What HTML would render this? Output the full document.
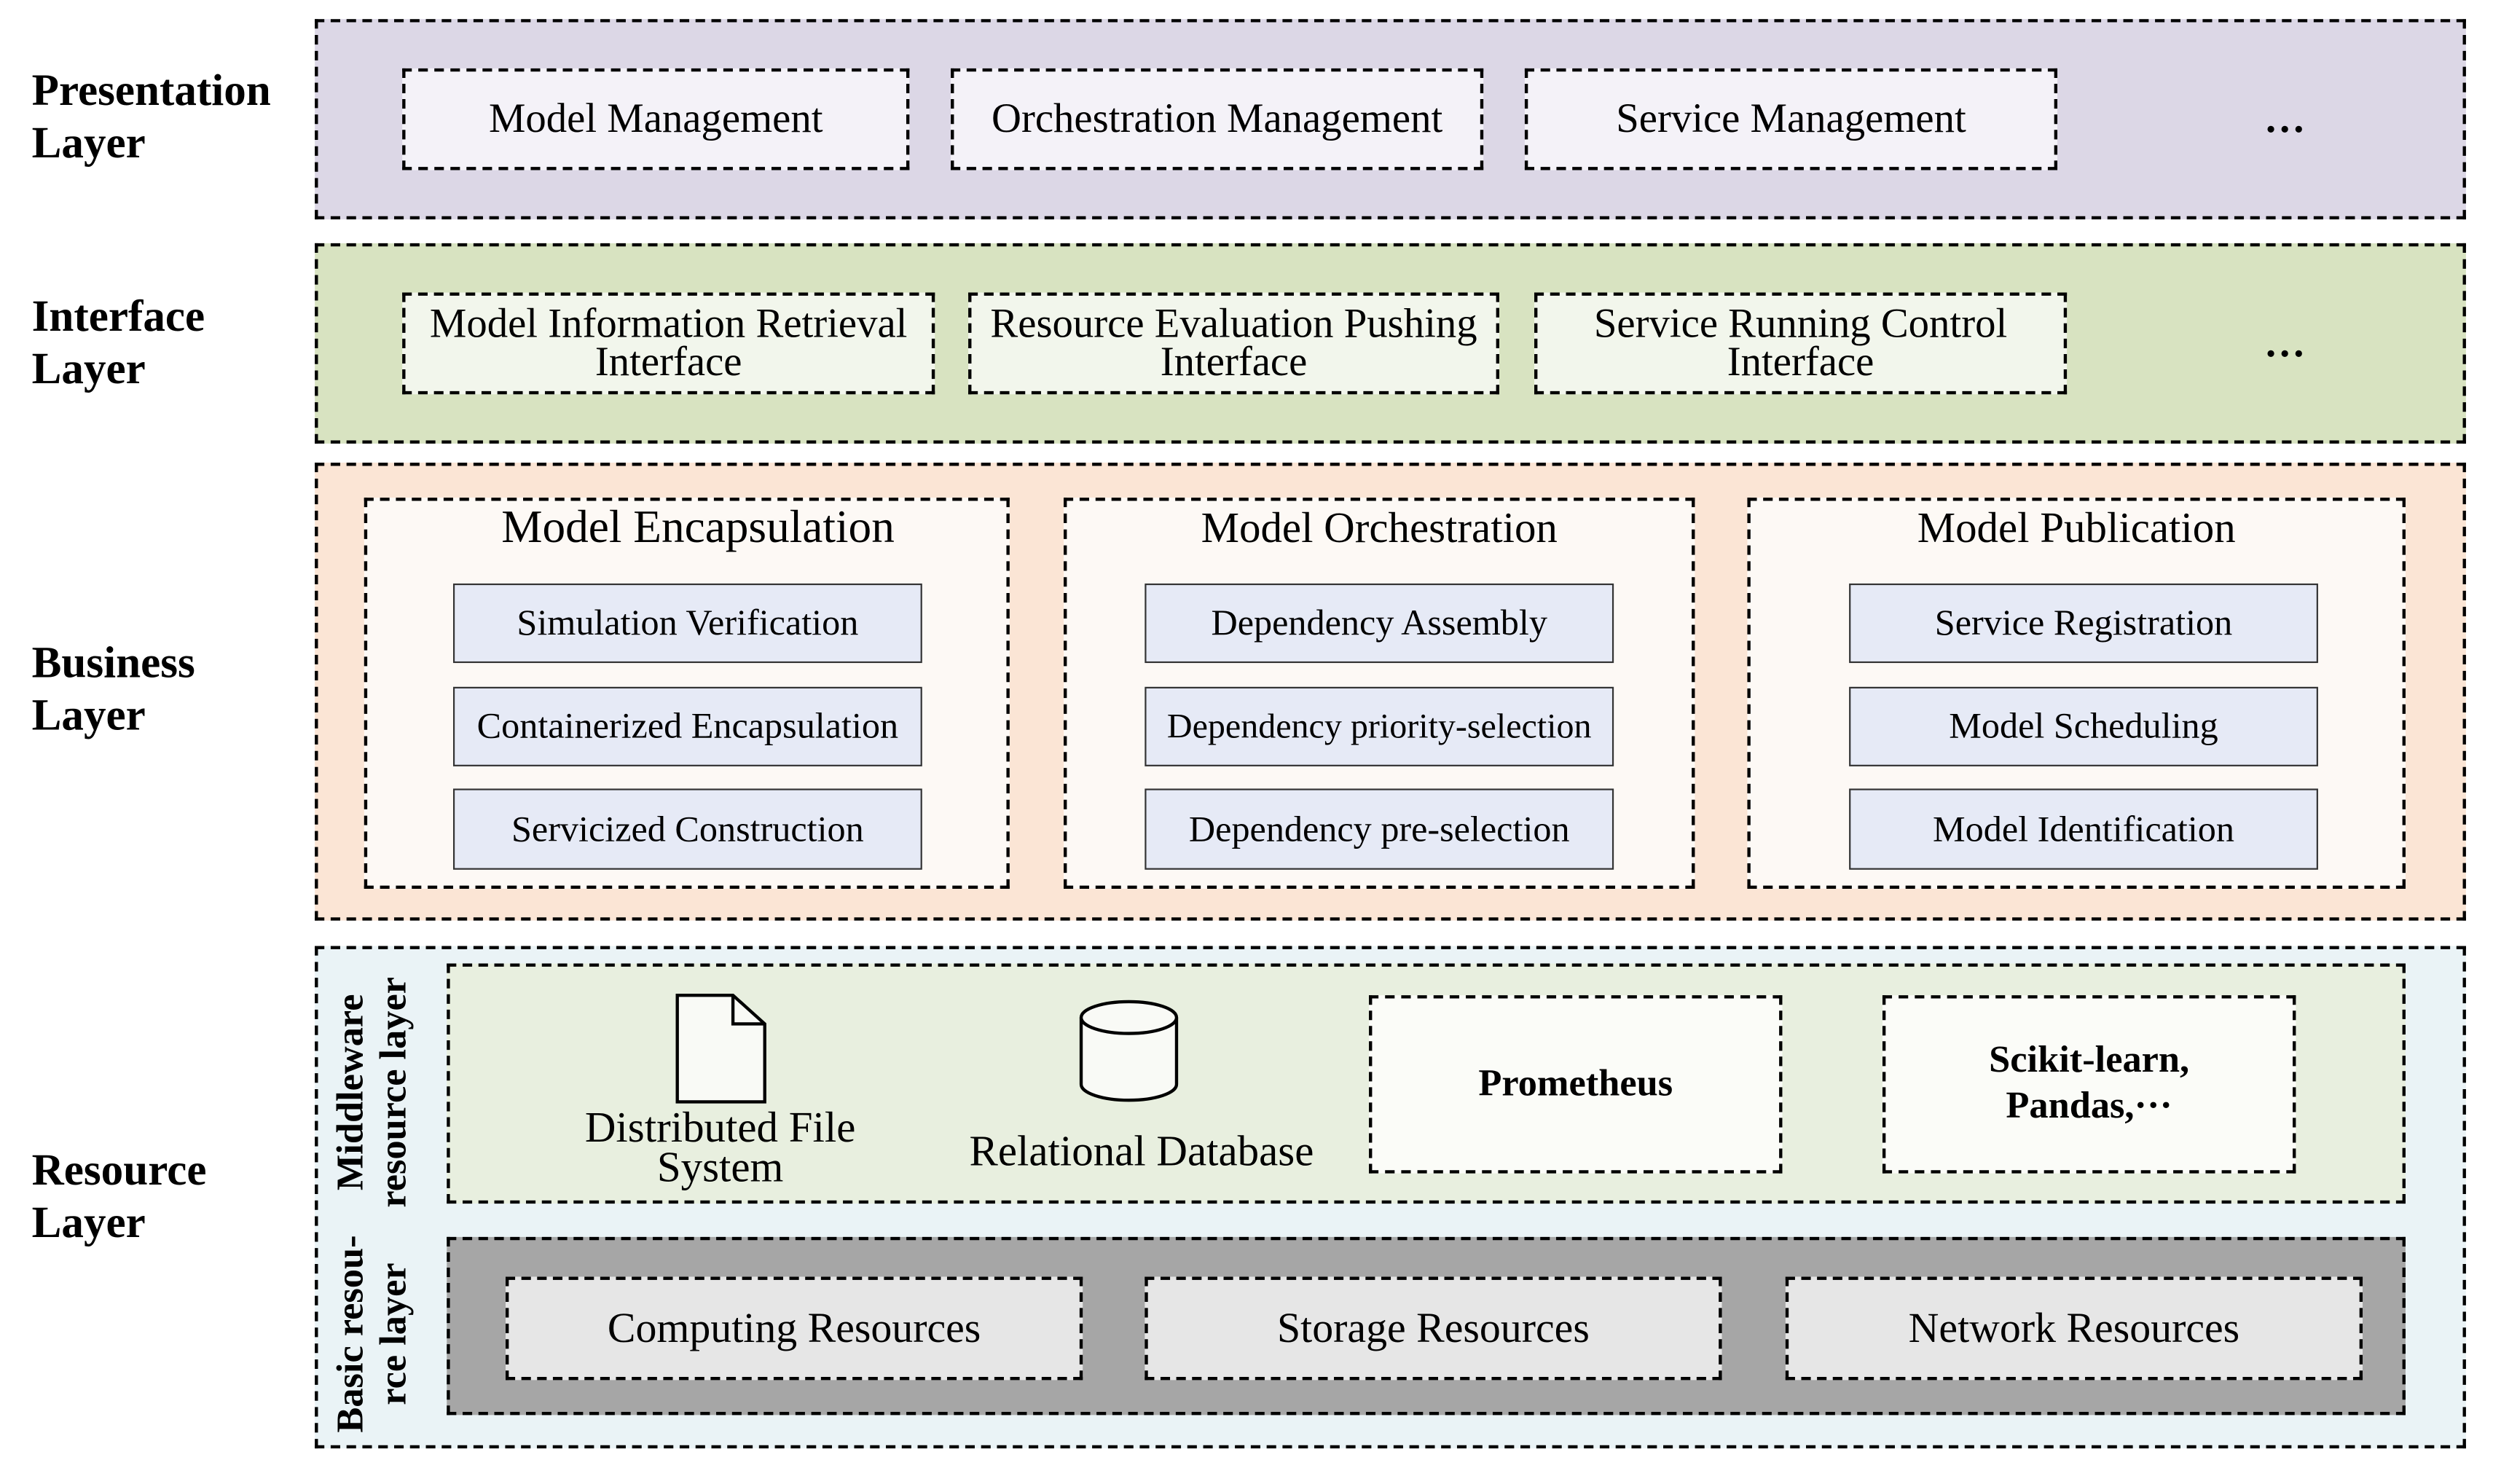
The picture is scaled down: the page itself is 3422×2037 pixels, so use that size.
<!DOCTYPE html>
<html><head><meta charset="utf-8"><style>
html,body{margin:0;padding:0;background:#fff;width:3422px;height:2037px;overflow:hidden}
#s{position:absolute;left:0;top:0;width:1568px;height:933px;transform:scale(2.1824);transform-origin:0 0;font-family:"Liberation Serif",serif;color:#000}
.b{position:absolute;box-sizing:border-box;border:2px dashed #000;display:flex;align-items:center;justify-content:center;text-align:center;line-height:1.0;white-space:nowrap}
.i{position:absolute;box-sizing:border-box;border:1px solid #333;background:#e6eaf6;display:flex;align-items:center;justify-content:center;font-size:23px;white-space:nowrap}
.l{position:absolute;font-weight:bold;font-size:28px;line-height:33px}
.t{position:absolute;font-size:29px;text-align:center;white-space:nowrap}
.v{position:absolute;font-weight:bold;font-size:24px;line-height:27px;transform:rotate(-90deg);transform-origin:0 0;text-align:center;white-space:nowrap}
.d{position:absolute;font-size:26px;font-weight:bold}
</style></head><body><div id="s">
<div class="l" style="left:20px;top:41px">Presentation<br>Layer</div>
<div class="l" style="left:20px;top:183px">Interface<br>Layer</div>
<div class="l" style="left:20px;top:401px">Business<br>Layer</div>
<div class="l" style="left:20px;top:720px">Resource<br>Layer</div>

<div class="b" style="left:198px;top:12px;width:1353px;height:126px;background:#dcd7e6"></div>
<div class="b" style="left:253px;top:43px;width:319px;height:64px;background:#f4f2f8;font-size:26px">Model Management</div>
<div class="b" style="left:598px;top:43px;width:335px;height:64px;background:#f4f2f8;font-size:26px">Orchestration Management</div>
<div class="b" style="left:959px;top:43px;width:335px;height:64px;background:#f4f2f8;font-size:26px">Service Management</div>
<div class="d" style="left:1424px;top:60px">…</div>

<div class="b" style="left:198px;top:153px;width:1353px;height:126px;background:#d8e3c1"></div>
<div class="b" style="left:253px;top:184px;width:335px;height:64px;background:#f2f6ec;font-size:26px;line-height:24px">Model Information Retrieval<br>Interface</div>
<div class="b" style="left:609px;top:184px;width:334px;height:64px;background:#f2f6ec;font-size:26px;line-height:24px">Resource Evaluation Pushing<br>Interface</div>
<div class="b" style="left:965px;top:184px;width:335px;height:64px;background:#f2f6ec;font-size:26px;line-height:24px">Service Running Control<br>Interface</div>
<div class="d" style="left:1424px;top:201px">…</div>

<div class="b" style="left:198px;top:291px;width:1353px;height:288px;background:#fbe5d5"></div>
<div class="b" style="left:229px;top:313px;width:406px;height:246px;background:#fdf9f5"></div>
<div class="b" style="left:669px;top:313px;width:397px;height:246px;background:#fdf9f5"></div>
<div class="b" style="left:1099px;top:313px;width:414px;height:246px;background:#fdf9f5"></div>
<div class="t" style="left:229px;top:316px;width:420px">Model Encapsulation</div>
<div class="t" style="left:669px;top:317px;width:397px;font-size:27px">Model Orchestration</div>
<div class="t" style="left:1099px;top:317px;width:414px;font-size:27px">Model Publication</div>
<div class="i" style="left:285px;top:367px;width:295px;height:50px">Simulation Verification</div>
<div class="i" style="left:285px;top:432px;width:295px;height:50px">Containerized Encapsulation</div>
<div class="i" style="left:285px;top:496px;width:295px;height:51px">Servicized Construction</div>
<div class="i" style="left:720px;top:367px;width:295px;height:50px">Dependency Assembly</div>
<div class="i" style="left:720px;top:432px;width:295px;height:50px;font-size:22px">Dependency priority-selection</div>
<div class="i" style="left:720px;top:496px;width:295px;height:51px">Dependency pre-selection</div>
<div class="i" style="left:1163px;top:367px;width:295px;height:50px">Service Registration</div>
<div class="i" style="left:1163px;top:432px;width:295px;height:50px">Model Scheduling</div>
<div class="i" style="left:1163px;top:496px;width:295px;height:51px">Model Identification</div>

<div class="b" style="left:198px;top:595px;width:1353px;height:316px;background:#eaf3f6"></div>
<div class="b" style="left:281px;top:606px;width:1232px;height:151px;background:#e8efdf"></div>
<svg style="position:absolute;left:420px;top:620px" width="80" height="80"><path d="M6 6 H41 L61 24 V73 H6 Z" fill="#f9faf6" stroke="#000" stroke-width="2"/><path d="M41 6 V24 H61" fill="none" stroke="#000" stroke-width="2"/></svg>
<svg style="position:absolute;left:674px;top:626px" width="72" height="72"><path d="M6 14 V56 A30 10 0 0 0 66 56 V14" fill="#f9faf6" stroke="#000" stroke-width="2"/><ellipse cx="36" cy="14" rx="30" ry="10" fill="#f9faf6" stroke="#000" stroke-width="2"/></svg>
<div class="t" style="left:340px;top:697px;width:226px;font-size:27px;line-height:25px">Distributed File<br>System</div>
<div class="t" style="left:588px;top:709px;width:260px;font-size:27px">Relational Database</div>
<div class="b" style="left:861px;top:626px;width:260px;height:112px;background:#fbfcf8;font-weight:bold;font-size:24px">Prometheus</div>
<div class="b" style="left:1184px;top:626px;width:260px;height:112px;background:#fbfcf8;font-weight:bold;font-size:24px;line-height:29px">Scikit-learn,<br>Pandas,···</div>
<div class="b" style="left:281px;top:778px;width:1232px;height:112px;background:#a6a6a6"></div>
<div class="b" style="left:318px;top:803px;width:363px;height:65px;background:#e6e6e6;font-size:26.5px">Computing Resources</div>
<div class="b" style="left:720px;top:803px;width:363px;height:65px;background:#e6e6e6;font-size:26.5px">Storage Resources</div>
<div class="b" style="left:1123px;top:803px;width:363px;height:65px;background:#e6e6e6;font-size:26.5px">Network Resources</div>
<div class="v" style="left:208px;top:762px;width:150px">Middleware<br>resource layer</div>
<div class="v" style="left:208px;top:902px;width:126px">Basic resou-<br>rce layer</div>
</div></body></html>
